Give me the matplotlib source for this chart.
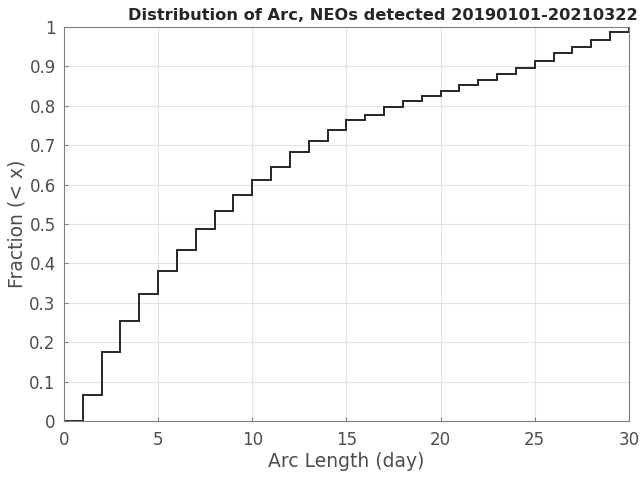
import matplotlib
matplotlib.use("Agg")
import matplotlib.pyplot as plt
import numpy as np

# empirical CDF of arc length, one step per day
arc_days = np.arange(0, 31)
fraction = [0.0, 0.066, 0.175, 0.254, 0.322, 0.381, 0.433, 0.487, 0.534, 0.575,
            0.612, 0.645, 0.683, 0.711, 0.738, 0.763, 0.776, 0.796, 0.811, 0.825,
            0.837, 0.852, 0.866, 0.882, 0.897, 0.914, 0.933, 0.950, 0.968, 0.987]

fig = plt.figure(figsize=(6.41, 4.78), dpi=100)
ax = fig.add_axes([0.0998, 0.119, 0.8814, 0.8245])

ax.stairs(fraction, arc_days, color='#262626', linewidth=1.4, baseline=None)
ax.plot([30, 30], [fraction[-1], 1.0], color='#262626', linewidth=1.4)

ax.set_xlim(0, 30)
ax.set_ylim(0, 1)
ax.set_xticks(np.arange(0, 31, 5))
ax.set_yticks(np.arange(0, 1.01, 0.1))
ax.set_yticklabels(['0', '0.1', '0.2', '0.3', '0.4', '0.5', '0.6', '0.7', '0.8', '0.9', '1'])
ax.grid(True, color='#e3e3e3', linewidth=0.8)
ax.set_axisbelow(True)
ax.tick_params(direction='in', length=3, colors='#808080', labelcolor='#4d4d4d',
               labelsize=12)
ax.tick_params(axis='x', pad=7)
ax.tick_params(axis='y', pad=6)
for s in ax.spines.values():
    s.set_color('#808080')

ax.set_xlabel('Arc Length (day)', fontsize=13.5, color='#4d4d4d', labelpad=2)
ax.set_ylabel('Fraction (< x)', fontsize=13.5, color='#4d4d4d', labelpad=2)
ax.set_title('Distribution of Arc, NEOs detected 20190101-20210322',
             fontsize=11.7, fontweight='bold', color='#262626', pad=5, x=0.565)

fig.savefig('out.png', dpi=100)
